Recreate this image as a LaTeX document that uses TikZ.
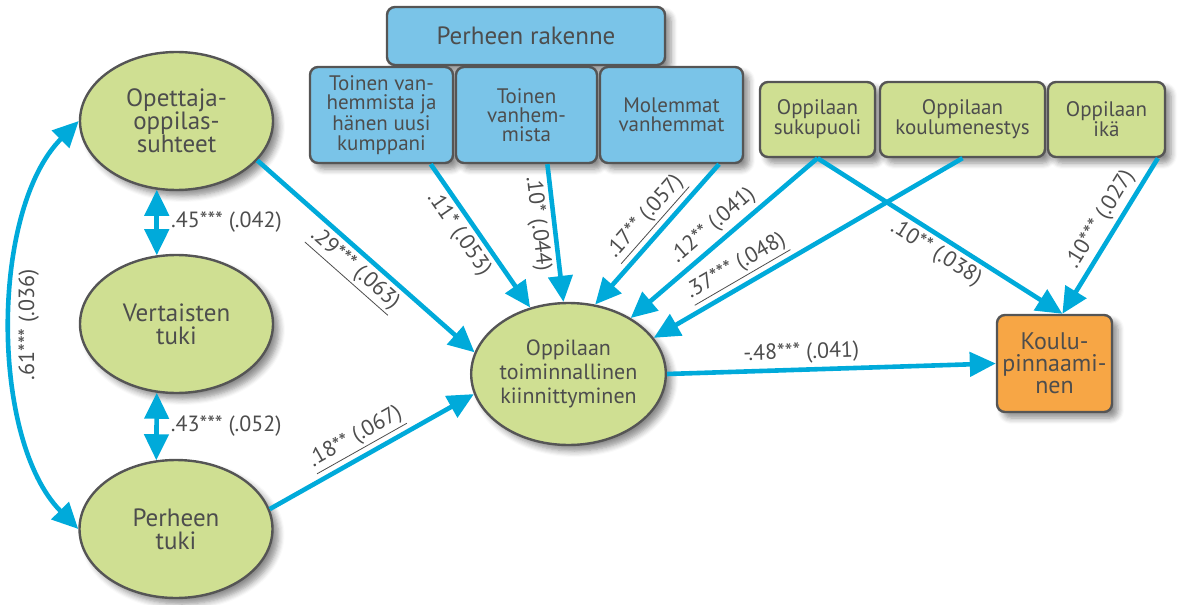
\documentclass[tikz,border=0pt]{standalone}
\usepackage{fontspec}
\setmainfont{PT Sans}
\usetikzlibrary{arrows.meta,shapes.geometric,shadows.blur}
\definecolor{pathBlue}{RGB}{0,170,218}
\definecolor{boxBlue}{RGB}{122,196,232}
\definecolor{boxGreen}{RGB}{207,223,146}
\definecolor{boxOrange}{RGB}{247,166,69}
\definecolor{lineGray}{RGB}{85,85,85}
\definecolor{textGray}{RGB}{77,77,77}
\tikzset{
	every shadowed/.style={
		blur shadow={shadow xshift=3pt, shadow yshift=-3pt, shadow blur steps=6, shadow blur radius=3pt, shadow opacity=45}
	},
	LatentStyle/.style={
		ellipse, draw=lineGray, line width=1.2pt, fill=boxGreen, text=textGray,
		inner sep=0pt, minimum width=96.5pt, minimum height=69pt, align=center,
		font=\fontsize{12.5}{11.5}\selectfont, every shadowed
	},
	FamilyStyle/.style={
		rectangle, rounded corners=4pt, draw=lineGray, line width=1.2pt, fill=boxBlue, text=textGray,
		inner sep=0pt, minimum height=48pt, align=center,
		font=\fontsize{10.5}{9.6}\selectfont, every shadowed
	},
	StudentStyle/.style={
		rectangle, rounded corners=4pt, draw=lineGray, line width=1.2pt, fill=boxGreen, text=textGray,
		inner sep=0pt, minimum height=37.5pt, align=center,
		font=\fontsize{10.5}{10}\selectfont, every shadowed
	},
	EdgeStyle/.style={
		draw=pathBlue, line width=2.3pt, -{Triangle[length=13pt,width=12pt]}
	},
	BothStyle/.style={
		draw=pathBlue, line width=2.3pt, {Triangle[length=13pt,width=12pt]}-{Triangle[length=13pt,width=12pt]}
	},
	CoefStyle/.style={
		text=textGray, font=\fontsize{11}{11}\selectfont, inner sep=2pt
	},
}

\begin{document}
\begin{tikzpicture}[x=0.5pt,y=0.5pt]
\useasboundingbox (0,0) rectangle (1181,-604);

\node[FamilyStyle, minimum width=139pt, minimum height=29pt, font=\fontsize{12.5}{12}\selectfont] (rakenne) at (526,-36) {Perheen rakenne};
	\node[FamilyStyle, minimum width=71.5pt] (uusiKumppani) at (381.5,-115) {Toinen van-\\hemmista ja\\hänen uusi\\kumppani};
	\node[FamilyStyle, minimum width=70.5pt] (toinenVanhempi) at (526.5,-115) {Toinen\\vanhem-\\mista};
	\node[FamilyStyle, minimum width=71.5pt] (molemmat) at (671.5,-115) {Molemmat\\vanhemmat};

\node[StudentStyle, minimum width=57.5pt] (sukupuoli) at (817.5,-119.5) {Oppilaan\\sukupuoli};
\node[StudentStyle, minimum width=82.5pt] (koulumenestys) at (962.5,-119.5) {Oppilaan\\koulumenestys};
\node[StudentStyle, minimum width=58.5pt] (ika) at (1106.5,-119.5) {Oppilaan\\ikä};

\node[LatentStyle] (opettaja) at (176.5,-121) {Opettaja-\\oppilas-\\suhteet};
\node[LatentStyle] (vertaiset) at (176.5,-324) {Vertaisten\\tuki};
\node[LatentStyle] (perheenTuki) at (176,-529) {Perheen\\tuki};

\node[LatentStyle, minimum height=71pt, font=\fontsize{11}{12}\selectfont] (kiinnittyminen) at (568.5,-374) {Oppilaan\\toiminnallinen\\kiinnittyminen};

\node[StudentStyle, fill=boxOrange, minimum width=57.5pt, minimum height=48.5pt, font=\fontsize{12}{11}\selectfont] (koulupinnaaminen) at (1054.5,-363.5) {Koulu-\\pinnaami-\\nen};

\draw[EdgeStyle] (opettaja.-26) -- node[CoefStyle, sloped, below, pos=0.5] {\underline{.29*** (.063)}} (kiinnittyminen.167);
\draw[EdgeStyle] (uusiKumppani.-45) -- node[CoefStyle, sloped, below, pos=0.42] {.11* (.053)} (kiinnittyminen.120);
\draw[EdgeStyle] (toinenVanhempi.-67) -- node[CoefStyle, sloped, below, pos=0.42] {.10* (.044)} (kiinnittyminen.94);
\draw[EdgeStyle] (molemmat.-46) -- node[CoefStyle, sloped, above, pos=0.47] {\underline{.17** (.057)}} (kiinnittyminen.69);
\draw[EdgeStyle] (sukupuoli.south) -- node[CoefStyle, sloped, above, pos=0.5] {.12** (.041)} (kiinnittyminen.42);
\draw[EdgeStyle] (koulumenestys.south) -- node[CoefStyle, sloped, above, pos=0.7] {\underline{.37*** (.048)}} (kiinnittyminen.23);
\draw[EdgeStyle] (sukupuoli.south) -- node[CoefStyle, sloped, below, pos=0.52] {.10** (.038)} (koulupinnaaminen.81);
\draw[EdgeStyle] (ika.-37) -- node[CoefStyle, sloped, above, pos=0.45] {.10*** (.027)} (koulupinnaaminen.81);
\draw[EdgeStyle] (kiinnittyminen.east) -- node[CoefStyle, sloped, above, pos=0.41] {-.48*** (.041)} (koulupinnaaminen.west);
\draw[EdgeStyle] (perheenTuki.12) -- node[CoefStyle, sloped, above, pos=0.47] {\underline{.18** (.067)}} (kiinnittyminen.192);

\draw[BothStyle] (opettaja.-106) -- node[CoefStyle, right=4pt] {.45*** (.042)} (vertaiset.106);
\draw[BothStyle] (vertaiset.-106) -- node[CoefStyle, right=4pt] {.43*** (.052)} (perheenTuki.106);
\draw[BothStyle] (opettaja.west) .. controls (-10,-210) and (-10,-440) .. node[CoefStyle, sloped, below, pos=0.5] {.61*** (.036)} (perheenTuki.west);
\end{tikzpicture}
\end{document}
